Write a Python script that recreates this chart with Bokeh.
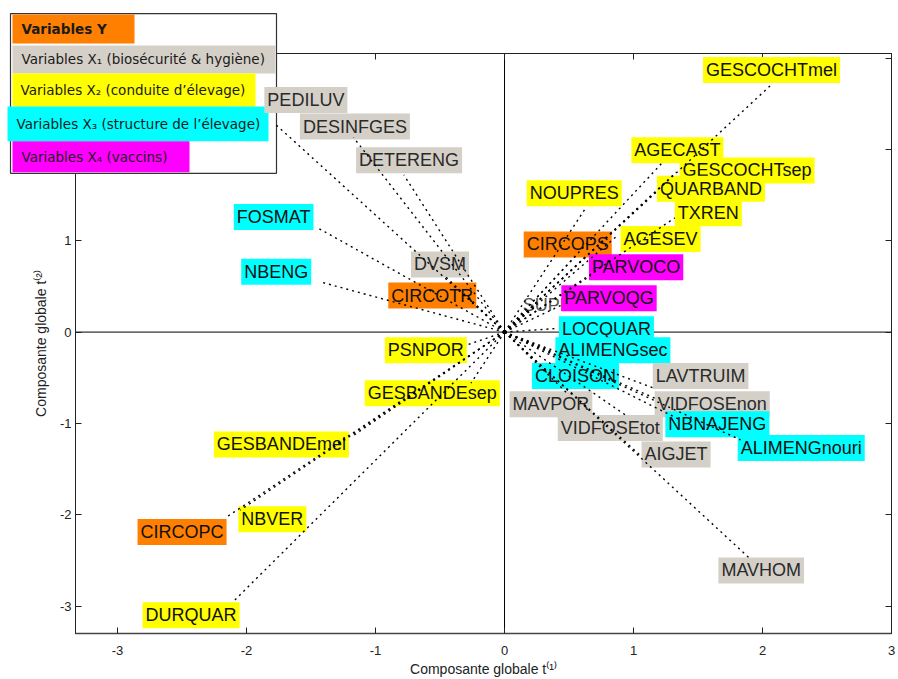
from bokeh.plotting import figure
from bokeh.models import (ColumnDataSource, Range1d, FixedTicker, LinearAxis,
                          Span)
from bokeh.core.properties import value
from bokeh.embed import file_html
from bokeh.resources import INLINE

# ---------------- data ----------------
names = ["GESCOCHTmel", "AGECAST", "GESCOCHTsep", "QUARBAND", "TXREN", "NOUPRES",
         "AGESEV", "CIRCOPS", "PARVOCO", "PARVOQG", "LOCQUAR", "ALIMENGsec",
         "CLOISON", "LAVTRUIM", "MAVPOR", "VIDFOSEnon", "NBNAJENG", "VIDFOSEtot",
         "ALIMENGnouri", "AIGJET", "MAVHOM", "PEDILUV", "DESINFGES", "DETERENG",
         "FOSMAT", "NBENG", "DVSM", "CIRCOTR", "PSNPOR", "GESBANDEsep",
         "GESBANDEmel", "NBVER", "CIRCOPC", "DURQUAR"]
groups = ["X2", "X2", "X2", "X2", "X2", "X2",
          "X2", "Y", "X4", "X4", "X3", "X3",
          "X3", "X1", "X1", "X1", "X3", "X1",
          "X3", "X1", "X1", "X1", "X1", "X1",
          "X3", "X3", "X1", "Y", "X2", "X2",
          "X2", "X2", "Y", "X2"]
# end points of the dotted segments (global components t1, t2)
t1 = [2.07, 1.22, 1.33, 1.19, 1.32, 0.63,
      0.87, 0.55, 0.67, 0.45, 0.41, 0.38,
      0.32, 1.15, 0.50, 1.19, 1.36, 0.95,
      1.83, 1.06, 1.91, -1.78, -1.17, -0.78,
      -1.46, -1.43, -0.46, -0.26, -0.29, -0.26,
      -1.19, -2.05, -2.16, -2.11]
t2 = [2.71, 1.85, 1.75, 1.55, 1.25, 1.36,
      1.05, 0.83, 0.62, 0.30, 0.04, -0.22,
      -0.42, -0.61, -0.69, -0.74, -0.96, -0.92,
      -1.18, -1.36, -2.49, 2.28, 2.13, 1.72,
      1.15, 0.55, 0.61, 0.35, -0.14, -0.56,
      -1.15, -1.95, -2.03, -2.96]
# label centres
lab_t1 = [2.07, 1.34, 1.88, 1.60, 1.58, 0.54,
          1.21, 0.49, 1.02, 0.81, 0.79, 0.84,
          0.55, 1.52, 0.36, 1.61, 1.65, 0.82,
          2.30, 1.33, 1.99, -1.54, -1.16, -0.74,
          -1.79, -1.77, -0.50, -0.56, -0.61, -0.56,
          -1.73, -1.80, -2.50, -2.43]
lab_t2 = [2.87, 1.99, 1.77, 1.57, 1.30, 1.52,
          1.02, 0.96, 0.71, 0.37, 0.03, -0.20,
          -0.48, -0.48, -0.79, -0.79, -1.01, -1.05,
          -1.27, -1.34, -2.61, 2.54, 2.25, 1.88,
          1.26, 0.66, 0.74, 0.40, -0.20, -0.67,
          -1.23, -2.05, -2.19, -3.10]

# label partly hidden under PARVOQG (no coloured box)
hidden_names = ["SUPPLEG"]
hidden_t1 = [0.24]
hidden_t2 = [0.28]
hidden_lab_t1 = [0.47]
hidden_lab_t2 = [0.30]

group_keys = ["Y", "X1", "X2", "X3", "X4"]
group_colors = ["#FF7F00", "#D4D0C8", "#FFFF00", "#00FFFF", "#FF00FF"]
legend_texts = ["Variables Y",
                "Variables X\u2081 (biosécurité & hygiène)",
                "Variables X\u2082 (conduite d\u2019élevage)",
                "Variables X\u2083 (structure de l\u2019élevage)",
                "Variables X\u2084 (vaccins)"]

x_ticks = [-3, -2, -1, 0, 1, 2, 3]
x_tick_labels = ["-3", "-2", "-1", "0", "1", "2", "3"]
y_ticks = [-3, -2, -1, 0, 1, 2, 3]
y_tick_labels = ["-3", "-2", "-1", "0", "1", "2", "3"]

# ---------------- figure ----------------
FRAME_L, FRAME_R, FRAME_T, FRAME_B = 75, 891, 53, 634
W, H = 897, 679

color_of = dict(zip(group_keys, group_colors))
src = ColumnDataSource(dict(
    name=names, t1=t1, t2=t2, lx=lab_t1, ly=lab_t2,
    bg=[color_of[g] for g in groups],
    tc=["#2a2a2a" if g == "X1" else "#111111" for g in groups],
))
hsrc = ColumnDataSource(dict(name=hidden_names, t1=hidden_t1, t2=hidden_t2,
                             lx=hidden_lab_t1, ly=hidden_lab_t2))

p = figure(width=W, height=H, output_backend="svg", toolbar_location=None,
           x_range=Range1d(-3.326, 3.0), y_range=Range1d(-3.3, 3.05),
           min_border_left=FRAME_L, min_border_right=W - FRAME_R,
           min_border_top=FRAME_T, min_border_bottom=H - FRAME_B)
# pixel-like ranges, used only to place the legend box
p.extra_x_ranges = {"px": Range1d(FRAME_L, FRAME_R)}
p.extra_y_ranges = {"py": Range1d(FRAME_B, FRAME_T)}
p.background_fill_color = "white"
p.border_fill_color = "white"
p.outline_line_color = "black"
p.outline_line_width = 1
p.grid.visible = False

FONT = "Liberation Sans"

def style_axis(ax, ticks, labels, show_labels=True):
    ax.ticker = FixedTicker(ticks=ticks)
    ax.major_label_overrides = {t: l for t, l in zip(ticks, labels)}
    ax.major_tick_in = 6
    ax.major_tick_out = 0
    ax.minor_tick_line_color = None
    ax.axis_line_color = "#222222"
    ax.major_tick_line_color = "#222222"
    ax.major_label_text_font = FONT
    if show_labels:
        ax.major_label_text_font_size = "13px"
        ax.major_label_text_color = "#222222"
    else:
        ax.major_label_text_font_size = "1px"
        ax.major_label_text_color = None
        ax.major_label_standoff = 0

style_axis(p.xaxis[0], x_ticks, x_tick_labels)
style_axis(p.yaxis[0], y_ticks, y_tick_labels)
p.xaxis[0].axis_line_width = 1.6
p.xaxis[0].axis_line_color = "#444444"
p.xaxis[0].major_label_standoff = 12
p.yaxis[0].major_label_standoff = 4
p.xaxis[0].axis_label = "Composante globale t\u207D\u00B9\u207E"
p.yaxis[0].axis_label = "Composante globale t\u207D\u00B2\u207E"
for ax in (p.xaxis[0], p.yaxis[0]):
    ax.axis_label_text_font = FONT
    ax.axis_label_text_font_size = "14px"
    ax.axis_label_text_font_style = "normal"
    ax.axis_label_text_color = "#222222"
p.xaxis[0].axis_label_standoff = 3
p.yaxis[0].axis_label_standoff = 8

top_ax = LinearAxis()
style_axis(top_ax, x_ticks, x_tick_labels, show_labels=False)
p.add_layout(top_ax, "above")
right_ax = LinearAxis()
style_axis(right_ax, y_ticks, y_tick_labels, show_labels=False)
p.add_layout(right_ax, "right")

p.add_layout(Span(location=0, dimension="height", line_color="black",
                  line_width=1, level="underlay"))
p.add_layout(Span(location=0, dimension="width", line_color="black",
                  line_width=1, level="underlay"))

# ---------------- legend box (pixel ranges, overlay level) ----------------
box_l, box_r, box_t, box_b = 10, 276, 13, 173
row_l = [12, 12, 12, 7, 12]
row_r = [134, 275, 255, 268, 189]
row_t = [14, 45, 73, 106, 141]
row_b = [43, 73, 106, 141, 172]
row_text_x = [21, 21, 20, 16, 21]

p.quad(left=[box_l], right=[box_r], top=[box_t], bottom=[box_b],
       x_range_name="px", y_range_name="py", level="overlay",
       fill_color="white", line_color="#333333", line_width=1.2)
p.quad(left=row_l, right=row_r, top=row_t, bottom=row_b,
       x_range_name="px", y_range_name="py", level="overlay",
       fill_color=group_colors, line_color=None)
leg_src = ColumnDataSource(dict(
    x=row_text_x, y=[(t + b) / 2 for t, b in zip(row_t, row_b)],
    text=legend_texts,
    style=["bold", "normal", "normal", "normal", "normal"]))
p.text(x="x", y="y", text="text", source=leg_src,
       x_range_name="px", y_range_name="py", level="overlay",
       text_font=value("DejaVu Sans"), text_font_size="13.5px",
       text_font_style="style", text_color="#1a1a1a",
       text_align="left", text_baseline="middle")

# ---------------- variable labels and dotted segments ----------------
# hidden label (drawn first)
p.text(x="lx", y="ly", text="name", source=hsrc, text_font=value(FONT),
       text_font_size="18px", text_color="#555555", text_align="center",
       text_baseline="middle", level="overlay")

# coloured labels
p.text(x="lx", y="ly", text="name", source=src, text_font=value(FONT),
       text_font_size="18px", text_color="tc", text_align="center",
       text_baseline="middle", background_fill_color="bg", padding=3,
       level="overlay")

# dotted segments from the origin
p.segment(x0=0, y0=0, x1="t1", y1="t2", source=src, line_color="black",
          line_width=1.4, line_dash="2 4", level="overlay")
p.segment(x0=0, y0=0, x1="t1", y1="t2", source=hsrc, line_color="black",
          line_width=1.4, line_dash="2 4", level="overlay")

open("out.html", "w").write(file_html(p, INLINE))
